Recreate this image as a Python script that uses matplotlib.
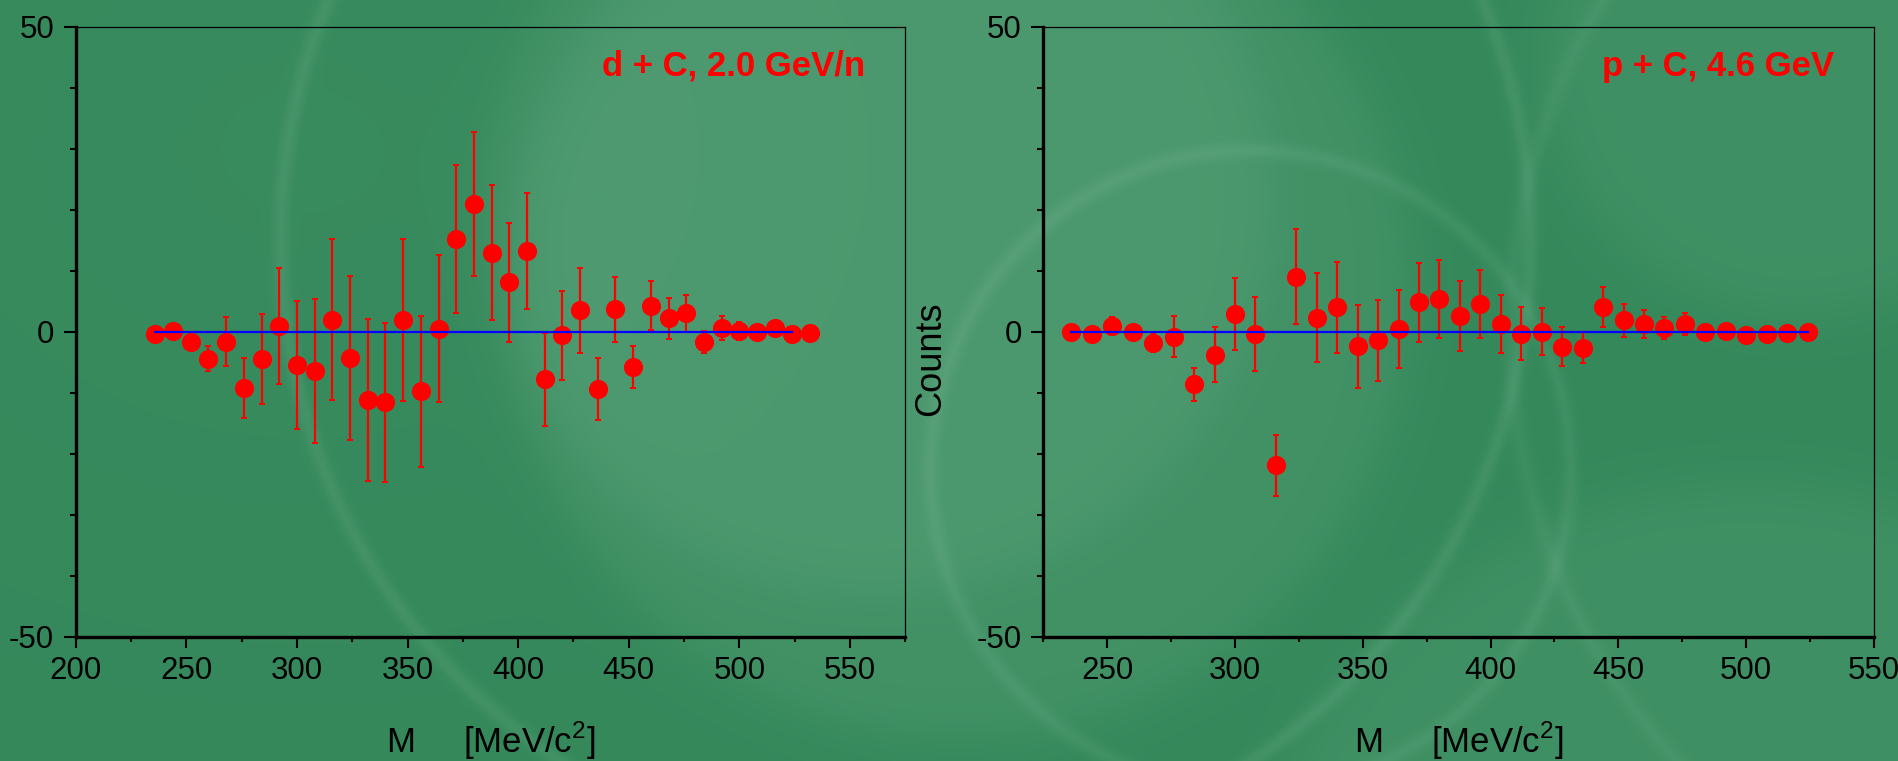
import numpy as np
import matplotlib
matplotlib.use("Agg")
import matplotlib.pyplot as plt
from matplotlib.ticker import MultipleLocator

plt.rcParams['font.family'] = ['Liberation Sans', 'DejaVu Sans']
plt.rcParams['axes.unicode_minus'] = False

# invariant mass bins, MeV/c^2
m_dc = [236, 244, 252, 260, 268, 276, 284, 292, 300, 308, 316, 324, 332, 340,
        348, 356, 364, 372, 380, 388, 396, 404, 412, 420, 428, 436, 444, 452,
        460, 468, 476, 484, 492, 500, 508, 516, 524, 532]
counts_dc = [-0.4, 0.2, -1.7, -4.4, -1.6, -9.2, -4.5, 1.0, -5.4, -6.5, 2.0, -4.3,
             -11.2, -11.6, 1.9, -9.8, 0.5, 15.2, 20.9, 13.0, 8.1, 13.3, -7.8, -0.6,
             3.5, -9.4, 3.7, -5.8, 4.3, 2.2, 3.0, -1.7, 0.6, 0.1, -0.1, 0.6, -0.3, -0.2]
err_dc = [0.5, 0.5, 1.0, 2.1, 4.1, 4.9, 7.4, 9.5, 10.5, 11.8, 13.2, 13.4, 13.3, 13.1,
          13.3, 12.4, 12.1, 12.2, 11.8, 11.0, 9.8, 9.5, 7.6, 7.3, 7.0, 5.1, 5.3, 3.4,
          4.0, 3.4, 3.0, 1.8, 2.0, 1.5, 1.0, 0.8, 0.5, 0.5]

m_pc = [236, 244, 252, 260, 268, 276, 284, 292, 300, 308, 316, 324, 332, 340,
        348, 356, 364, 372, 380, 388, 396, 404, 412, 420, 428, 436, 444, 452,
        460, 468, 476, 484, 492, 500, 508, 516, 524]
counts_pc = [-0.1, -0.3, 1.0, -0.1, -1.8, -0.8, -8.6, -3.8, 2.9, -0.4, -21.9, 9.0,
             2.3, 4.0, -2.4, -1.4, 0.4, 4.8, 5.4, 2.6, 4.6, 1.3, -0.3, 0.0, -2.5,
             -2.6, 4.0, 1.9, 1.3, 0.6, 1.2, 0.0, 0.1, -0.5, -0.3, -0.2, -0.1]
err_pc = [0.5, 0.5, 1.5, 1.0, 1.6, 3.4, 2.7, 4.5, 5.9, 6.1, 5.0, 7.8, 7.3, 7.45,
          6.8, 6.6, 6.4, 6.5, 6.35, 5.7, 5.55, 4.8, 4.4, 3.85, 3.2, 2.6, 3.3, 2.7,
          2.3, 1.8, 1.8, 0.5, 0.5, 0.5, 0.5, 0.5, 0.5]

# zero baseline drawn over the points
base_x = [236, 524]
base_y = [0, 0]

labels = ["d + C, 2.0 GeV/n", "p + C, 4.6 GeV"]
xlims = [(200, 575), (225, 550)]

W, H = 1899, 761
fig = plt.figure(figsize=(W / 100, H / 100), dpi=100)

# green backdrop with soft discs and faint rings
yy, xx = np.mgrid[0:H, 0:W].astype(float)


def disc(cx, cy, r, a, soft=10.0):
    d = np.hypot(xx - cx, yy - cy)
    return a / (1 + np.exp((d - r) / soft))


def ring(cx, cy, r, a, w=5.0):
    d = np.hypot(xx - cx, yy - cy)
    return a * np.exp(-((d - r) / w) ** 2)


glow = np.zeros((H, W))
glow += disc(960, 290, 450, 0.10, 16)
glow += disc(880, 200, 390, 0.08, 16)
glow += disc(1800, 60, 260, 0.08, 16)
glow += disc(1750, 1000, 520, 0.08, 16)
glow += ring(905, 240, 625, 0.10, 8)
glow += ring(1250, 470, 320, 0.08, 8)
glow += ring(2150, 330, 640, 0.06, 9)
glow += 0.03 * np.exp(-((xx - 300) / 500) ** 2 - ((yy - 150) / 400) ** 2)
glow = np.clip(glow, 0, 0.4)

base = np.array([0.205, 0.535, 0.355])
lite = np.array([0.72, 0.88, 0.78])
img = base[None, None, :] * (1 - glow[..., None]) + lite[None, None, :] * glow[..., None]

bg = fig.add_axes([0, 0, 1, 1], zorder=-10)
bg.imshow(img, aspect='auto', interpolation='bilinear')
bg.axis('off')

ax1 = fig.add_axes([75.7 / W, 1 - 636.5 / H, 829.6 / W, 609.5 / H])
ax2 = fig.add_axes([1043.3 / W, 1 - 636.5 / H, 830.7 / W, 609.5 / H])

data = [(m_dc, counts_dc, err_dc), (m_pc, counts_pc, err_pc)]
for ax, (m, c, e), lab, xl in zip([ax1, ax2], data, labels, xlims):
    ax.set_facecolor('none')
    ax.errorbar(m, c, yerr=e, fmt='o', color='#ff0000', ms=12.8, mec='#ff0000',
                elinewidth=1.6, capsize=2.2, capthick=1.4, zorder=3)
    ax.plot(base_x, base_y, color='#0000ff', lw=1.6, zorder=4)

    ax.set_xlim(*xl)
    ax.set_ylim(-50, 50)
    ax.xaxis.set_major_locator(MultipleLocator(50))
    ax.xaxis.set_minor_locator(MultipleLocator(25))
    ax.yaxis.set_major_locator(MultipleLocator(50))
    ax.yaxis.set_minor_locator(MultipleLocator(10))

    for side in ['left', 'bottom']:
        ax.spines[side].set_linewidth(2.4)
    for side in ['top', 'right']:
        ax.spines[side].set_linewidth(0.9)

    ax.tick_params(axis='y', which='major', direction='out', length=8.6, width=1.5,
                   labelsize=22.5, pad=7)
    ax.tick_params(axis='y', which='minor', direction='out', length=4.5, width=1.5)
    ax.tick_params(axis='x', which='major', direction='out', length=8, width=1.5,
                   labelsize=22.5, pad=6)
    ax.tick_params(axis='x', which='minor', direction='out', length=3.6, width=1.5)

    ax.text(0.952, 0.92, lab, transform=ax.transAxes, ha='right', va='baseline',
            color='#ff0000', fontsize=25, fontweight='bold')

    # x label centred under each panel
    pos = ax.get_position()
    fig.text(pos.x0 + pos.width / 2, 8 / H, 'M     [MeV/c$^\\mathregular{2}$]',
             ha='center', va='baseline', fontsize=25)

fig.text(931 / W, 1 - 359 / H, 'Counts', rotation=90, ha='center', va='center',
         fontsize=26)

fig.savefig('out.png', dpi=100)
